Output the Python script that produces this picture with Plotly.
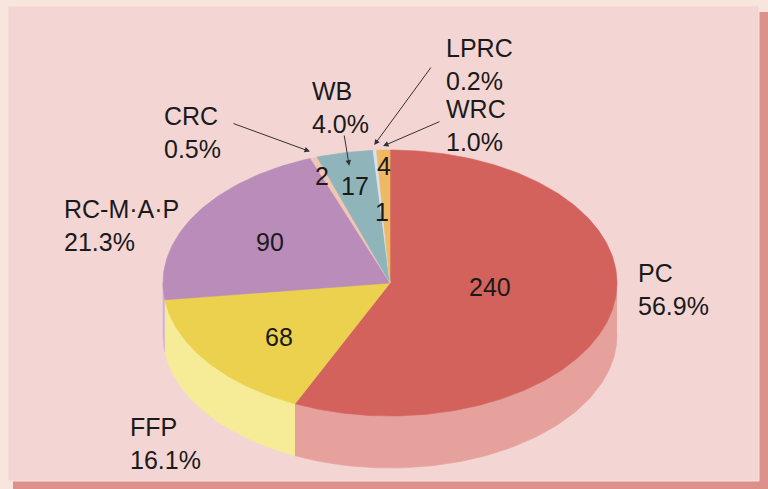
import numpy as np
import plotly.graph_objects as go

# ---------------- data ----------------
labels = ["PC", "FFP", "RC-M·A·P", "CRC", "WB", "LPRC", "WRC"]
values = [240, 68, 90, 2, 17, 1, 4]
percents = ["56.9%", "16.1%", "21.3%", "0.5%", "4.0%", "0.2%", "1.0%"]

# ---------------- styles ----------------
top_colors = ["#d4625c", "#ebd14d", "#b98cba", "#f1c6b2", "#8fb4ba", "#d6e3f1", "#efb862"]
side_colors = ["#e6a19c", "#f6eb96", "#d3b4d3", "#f6dccd", "#bdd3d6", "#e8eff8", "#f5d3a0"]

W, H = 768, 489
CX, CY = 390, 283          # pixel position of pie centre
A = 227.0                  # horizontal radius in px
TILT = 133 / A             # vertical squash of the top face
DEPTH = 52 / A             # thickness of the pie
FONT = "Liberation Sans, Arial, sans-serif"
FS = 25


def px(x, y):
    """convert a pixel layout position into axis units"""
    return (x - CX) / A, (CY - y) / A


total = float(sum(values))
cum = np.concatenate([[0], np.cumsum(values)]) / total * 2 * np.pi

fig = go.Figure()

# side walls (front half only)
for i in range(len(values)):
    t0, t1 = cum[i], cum[i + 1]
    s0, s1 = max(t0, np.pi / 2), min(t1, 3 * np.pi / 2)
    if s1 <= s0:
        continue
    th = np.linspace(s0, s1, 80)
    xs = np.sin(th)
    ys = np.cos(th) * TILT
    fig.add_trace(go.Scatter(
        x=np.concatenate([xs, xs[::-1]]),
        y=np.concatenate([ys, ys[::-1] - DEPTH]),
        fill="toself", mode="lines", fillcolor=side_colors[i],
        line=dict(color=side_colors[i], width=0.6),
        hoverinfo="skip", showlegend=False))

# top faces
for i in range(len(values)):
    t0, t1 = cum[i], cum[i + 1]
    n = max(4, int((t1 - t0) * 60))
    th = np.linspace(t0, t1, n)
    xs = np.concatenate([[0], np.sin(th), [0]])
    ys = np.concatenate([[0], np.cos(th) * TILT, [0]])
    fig.add_trace(go.Scatter(
        x=xs, y=ys, fill="toself", mode="lines", fillcolor=top_colors[i],
        line=dict(color=top_colors[i], width=0.6),
        name=labels[i], hoverinfo="skip", showlegend=False))

annotations = []

# value labels inside the slices (pixel layout positions)
value_pos = [(490, 287), (279, 337), (270, 242), (322, 176), (355, 186), (382, 212), (384, 166)]
for v, (x, y) in zip(values, value_pos):
    dx, dy = px(x, y)
    annotations.append(dict(x=dx, y=dy, xref="x", yref="y", text=str(v), showarrow=False,
                            font=dict(family=FONT, size=FS, color="#1a1a1a"),
                            xanchor="center", yanchor="middle"))

# outer name / percent labels (left edge, vertical centre in px)
label_pos = [(636, 289), (128, 443), (62, 225), (162, 132), (310, 107), (444, 64), (444, 125)]
for lab, pct, (x, y) in zip(labels, percents, label_pos):
    dx, dy = px(x, y)
    annotations.append(dict(x=dx, y=dy, xref="x", yref="y", text=f"{lab}<br>{pct}",
                            showarrow=False, align="left",
                            font=dict(family=FONT, size=FS, color="#1a1a1a"),
                            xanchor="left", yanchor="middle"))

# leader arrows for the small slices: tail pixel position, radius factor of tip
arrows = {3: ((232, 123), 1.05), 4: ((344, 134), 0.9), 5: ((432, 66), 1.04), 6: ((441, 121), 1.03)}
for i, ((tx, ty), r) in arrows.items():
    mid = (cum[i] + cum[i + 1]) / 2
    hx, hy = r * np.sin(mid), r * np.cos(mid) * TILT
    ax, ay = px(tx, ty)
    annotations.append(dict(x=hx, y=hy, xref="x", yref="y", ax=ax, ay=ay, axref="x", ayref="y",
                            text="", showarrow=True, arrowhead=2, arrowsize=1.1,
                            arrowwidth=1, arrowcolor="#333333"))

shapes = [
    # drop shadow frame
    dict(type="rect", xref="paper", yref="paper", x0=13 / W, x1=1, y0=0, y1=1 - 12 / H,
         fillcolor="#dc918a", line=dict(width=0), layer="below"),
    # main panel
    dict(type="rect", xref="paper", yref="paper", x0=8 / W, x1=759 / W, y0=1 - 481 / H, y1=1 - 6 / H,
         fillcolor="#f3d5d3", line=dict(color="#f7e2dc", width=1), layer="below"),
]

fig.update_layout(
    width=W, height=H,
    margin=dict(l=0, r=0, t=0, b=0),
    paper_bgcolor="#f8e6dc", plot_bgcolor="rgba(0,0,0,0)",
    xaxis=dict(range=[(0 - CX) / A, (W - CX) / A], visible=False, fixedrange=True),
    yaxis=dict(range=[(CY - H) / A, CY / A], visible=False, fixedrange=True),
    annotations=annotations, shapes=shapes, showlegend=False,
)

fig.write_html("out.html", config={"displayModeBar": False},
               post_script="document.body.style.margin='0';document.body.style.padding='0';")
